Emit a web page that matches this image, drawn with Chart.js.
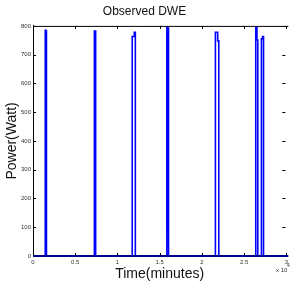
<!DOCTYPE html>
<html>
<head>
<meta charset="utf-8">
<script src="https://cdn.jsdelivr.net/npm/chart.js@4.4.1/dist/chart.umd.min.js"></script>
<style>
  html, body { margin: 0; padding: 0; background: #fff; }
  #wrap { width: 291px; height: 291px; }
</style>
</head>
<body>
<div id="wrap"><canvas id="dweChart" width="291" height="291"></canvas></div>
<script>
// 観測データ（時間[分] と 電力[W]）
const timeMinutes = [
  0,
  1450, 1450, 1540, 1540, 1620, 1620,
  7270, 7270, 7420, 7420,
  11750, 11750, 11990, 11990, 12120, 12120,
  15850, 15850, 15990, 15990, 16080, 16080,
  21600, 21600, 21870, 21870, 22000, 22000,
  26380, 26380, 26520, 26520, 26620, 26620,
  27050, 27050, 27180, 27180, 27300, 27300,
  30000
];
const powerWatts = [
  0,
  0, 785, 785, 745, 745, 0,
  0, 782, 782, 0,
  0, 763, 763, 778, 778, 0,
  0, 794, 794, 758, 758, 0,
  0, 778, 778, 748, 748, 0,
  0, 800, 800, 751, 751, 0,
  0, 755, 755, 763, 763, 0,
  0
];
const xTicks = [0, 5000, 10000, 15000, 20000, 25000, 30000];
const yTicks = [0, 100, 200, 300, 400, 500, 600, 700, 800];

const points = timeMinutes.map((t, i) => ({ x: t, y: powerWatts[i] }));

const FONT = '"Liberation Sans", Arial, sans-serif';

// MATLAB風の内向き目盛り・上枠・指数表記を描くプラグイン
const matlabFrame = {
  id: 'matlabFrame',
  afterDraw(chart) {
    const { ctx, chartArea: a, scales: { x, y } } = chart;
    ctx.save();
    ctx.strokeStyle = '#000';
    ctx.lineWidth = 1;
    ctx.beginPath();
    ctx.moveTo(a.left, a.top + 0.5);
    ctx.lineTo(a.right + 2, a.top + 0.5);
    xTicks.forEach(v => {
      const px = Math.round(x.getPixelForValue(v)) + 0.5;
      ctx.moveTo(px, a.top); ctx.lineTo(px, a.top + 3);
      ctx.moveTo(px, a.bottom); ctx.lineTo(px, a.bottom - 3);
    });
    yTicks.forEach(v => {
      const py = Math.round(y.getPixelForValue(v)) + 0.5;
      ctx.moveTo(a.left, py); ctx.lineTo(a.left + 3, py);
      ctx.moveTo(a.right - 1, py); ctx.lineTo(a.right - 4, py);
    });
    ctx.stroke();
    // ベースライン（0W）を濃い青で重ねる
    ctx.strokeStyle = '#00008b';
    ctx.lineWidth = 2;
    ctx.beginPath();
    ctx.moveTo(a.left, y.getPixelForValue(0));
    ctx.lineTo(a.right + 2, y.getPixelForValue(0));
    ctx.stroke();
    // 指数 (x 10^4)
    ctx.fillStyle = '#333';
    ctx.textBaseline = 'alphabetic';
    ctx.font = '6px ' + FONT;
    ctx.fillText('x 10', 276, 272);
    ctx.font = '5px ' + FONT;
    ctx.fillText('4', 287, 267);
    ctx.restore();
  }
};

new Chart(document.getElementById('dweChart'), {
  type: 'scatter',
  data: {
    datasets: [{
      data: points,
      showLine: true,
      borderColor: '#0000ff',
      borderWidth: 1.6,
      pointRadius: 0,
      tension: 0
    }]
  },
  options: {
    responsive: false,
    animation: false,
    layout: { padding: { left: 0, right: 2, top: 0, bottom: 0 } },
    plugins: {
      legend: { display: false },
      tooltip: { enabled: false },
      title: {
        display: true,
        text: 'Observed DWE',
        color: '#111',
        font: { family: FONT, size: 12, weight: 'normal' },
        padding: { top: 4, bottom: 7.5 }
      }
    },
    scales: {
      x: {
        type: 'linear',
        min: 0,
        max: 30000,
        afterBuildTicks: s => { s.ticks = xTicks.map(v => ({ value: v })); },
        afterFit: s => { s.height = 35; },
        grid: { display: false, drawTicks: false },
        border: { display: true, color: '#000', width: 1 },
        ticks: {
          padding: 3,
          color: '#333',
          maxRotation: 0,
          font: { family: FONT, size: 6 },
          callback: v => String(v / 10000)
        },
        title: {
          display: true,
          text: 'Time(minutes)',
          color: '#111',
          font: { family: FONT, size: 14 },
          padding: { top: 0, bottom: 8 }
        }
      },
      y: {
        min: 0,
        max: 800,
        afterBuildTicks: s => { s.ticks = yTicks.map(v => ({ value: v })); },
        afterFit: s => { s.width = 33; },
        grid: { display: false, drawTicks: false },
        border: { display: true, color: '#000', width: 1 },
        ticks: {
          padding: 2,
          color: '#333',
          font: { family: FONT, size: 6 }
        },
        title: {
          display: true,
          text: 'Power(Watt)',
          color: '#111',
          font: { family: FONT, size: 14 },
          padding: { top: 4, bottom: 0 }
        }
      }
    }
  },
  plugins: [matlabFrame]
});
</script>
</body>
</html>
